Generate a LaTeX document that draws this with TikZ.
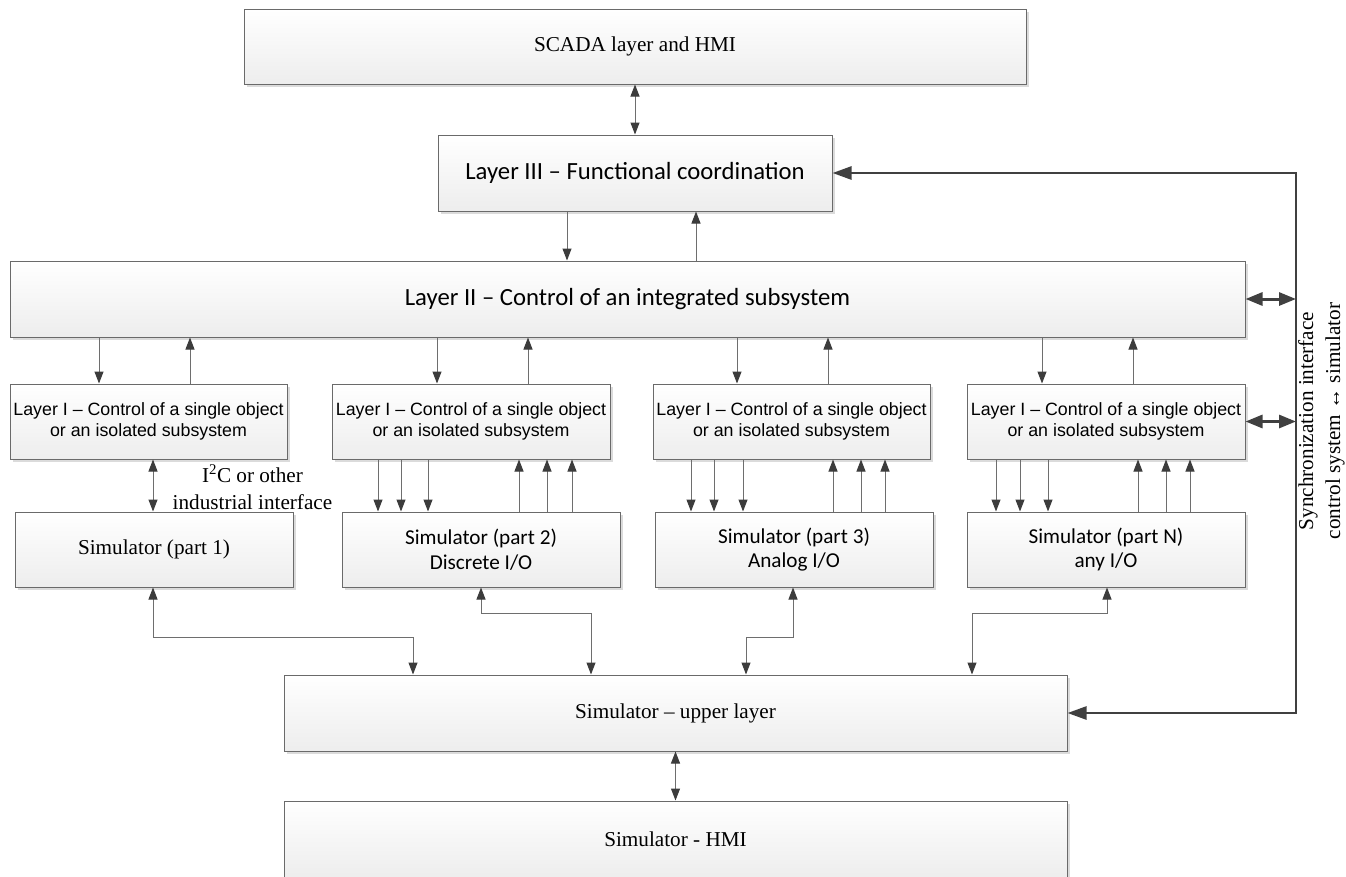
\documentclass[tikz,border=0pt]{standalone}
\usepackage{fontspec}
\setmainfont{Liberation Serif}
\newfontfamily\arialf[Ligatures=TeX]{Liberation Sans}
\newfontfamily\calibf[Ligatures=TeX]{Carlito}
\usetikzlibrary{arrows.meta,shadows}
\definecolor{boxline}{HTML}{6A6A6A}
\definecolor{arrline}{HTML}{6E6E6E}
\definecolor{arrhead}{HTML}{3C3C3C}
\definecolor{syncc}{HTML}{404040}
\tikzset{
  box/.style={draw=boxline, line width=1pt, top color=white, bottom color=black!7,
    drop shadow={shadow xshift=3pt, shadow yshift=-3pt, fill=black!14, opacity=1},
    align=center, inner sep=2pt},
  tnr/.style={font=\fontsize{21.2}{27}\selectfont},
  ari/.style={font=\arialf\fontsize{17.8}{21.7}\selectfont},
  calbig/.style={font=\calibf\fontsize{24.7}{30}\selectfont},
  calsm/.style={font=\calibf\fontsize{21.2}{24.5}\selectfont},
  arr/.style={draw=arrline, line width=1pt, -{Triangle[length=12pt,width=9pt,color=arrhead]}},
  darr/.style={draw=arrline, line width=1pt, {Triangle[length=12pt,width=9pt,color=arrhead]}-{Triangle[length=12pt,width=9pt,color=arrhead]}},
  syncline/.style={draw=syncc, line width=2.6pt, {Triangle[length=19pt,width=13pt,color=syncc]}-{Triangle[length=19pt,width=13pt,color=syncc]}},
  bigd/.style={draw=syncc, line width=3pt, {Triangle[length=17pt,width=13pt,color=syncc]}-{Triangle[length=17pt,width=13pt,color=syncc]}},
}
\begin{document}
\begin{tikzpicture}[x=1pt,y=-1pt]
\useasboundingbox (0,0) rectangle (1346,876);
% boxes
\node[box,tnr,minimum width=782pt,minimum height=75pt] (scada) at (635,46.5) {SCADA layer and HMI};
\node[box,calbig,minimum width=394pt,minimum height=76pt] (l3) at (635,173) {Layer III – Functional coordination};
\node[box,calbig,minimum width=1235pt,minimum height=76pt] (l2) at (627.5,299) {Layer II – Control of an integrated subsystem};
\node[box,ari,minimum width=277pt,minimum height=75pt] (la1) at (148.5,421.5) {Layer I – Control of a single object\\or an isolated subsystem};
\node[box,ari,minimum width=278pt,minimum height=75pt] (la2) at (471,421.5) {Layer I – Control of a single object\\or an isolated subsystem};
\node[box,ari,minimum width=277pt,minimum height=75pt] (la3) at (791.5,421.5) {Layer I – Control of a single object\\or an isolated subsystem};
\node[box,ari,minimum width=278pt,minimum height=75pt] (la4) at (1106,421.5) {Layer I – Control of a single object\\or an isolated subsystem};
\node[box,tnr,minimum width=278pt,minimum height=75pt] (s1) at (154,549.5) {Simulator (part 1)};
\node[box,calsm,minimum width=278pt,minimum height=75pt] (s2) at (481,549.5) {Simulator (part 2)\\Discrete I/O};
\node[box,calsm,minimum width=278pt,minimum height=75pt] (s3) at (794,549.5) {Simulator (part 3)\\Analog I/O};
\node[box,calsm,minimum width=278pt,minimum height=75pt] (sN) at (1106,549.5) {Simulator (part N)\\any I/O};
\node[box,tnr,minimum width=783pt,minimum height=76pt] (up) at (675.5,713) {Simulator – upper layer};
\node[box,tnr,minimum width=783pt,minimum height=77pt] (hmi) at (675.5,839.5) {Simulator - HMI};
% labels
\node[tnr,align=center,inner sep=0pt] (i2c) at (252.5,487) {I\textsuperscript{2}C or other\\industrial interface};
\node[tnr,align=center,inner sep=0pt,rotate=90] (synclbl) at (1321.5,421) {Synchronization interface\\control system ↔ simulator};
\coordinate (sync) at (1296,440);
% top arrows
\draw[darr] (scada.south) -- (l3.north);
\draw[arr] (l3.south -| 567,0) -- (l2.north -| 567,0);
\draw[arr] (l2.north -| 696,0) -- (l3.south -| 696,0);
% layer II <-> layer I
\draw[arr] (l2.south -| 99,0) -- (la1.north -| 99,0);
\draw[arr] (la1.north -| 190,0) -- (l2.south -| 190,0);
\draw[arr] (l2.south -| 437,0) -- (la2.north -| 437,0);
\draw[arr] (la2.north -| 528,0) -- (l2.south -| 528,0);
\draw[arr] (l2.south -| 737,0) -- (la3.north -| 737,0);
\draw[arr] (la3.north -| 828,0) -- (l2.south -| 828,0);
\draw[arr] (l2.south -| 1042,0) -- (la4.north -| 1042,0);
\draw[arr] (la4.north -| 1133,0) -- (l2.south -| 1133,0);
% layer I <-> simulators
\draw[darr] (la1.south -| 153,0) -- (s1.north -| 153,0);
\foreach \x in {378,401,428} \draw[arr] (la2.south -| \x,0) -- (s2.north -| \x,0);
\foreach \x in {519,547,572} \draw[arr] (s2.north -| \x,0) -- (la2.south -| \x,0);
\foreach \x in {691,714,743} \draw[arr] (la3.south -| \x,0) -- (s3.north -| \x,0);
\foreach \x in {833,861,885} \draw[arr] (s3.north -| \x,0) -- (la3.south -| \x,0);
\foreach \x in {996,1020,1048} \draw[arr] (la4.south -| \x,0) -- (sN.north -| \x,0);
\foreach \x in {1138,1166,1190} \draw[arr] (sN.north -| \x,0) -- (la4.south -| \x,0);
% simulators <-> upper layer
\draw[darr] (s1.south -| 153,0) |- (413,637) -- (up.north -| 413,0);
\draw[darr] (s2.south -| 481,0) |- (591,613) -- (up.north -| 591,0);
\draw[darr] (s3.south -| 793,0) |- (746,637) -- (up.north -| 746,0);
\draw[darr] (sN.south -| 1107,0) |- (972,613) -- (up.north -| 972,0);
\draw[darr] (up.south) -- (hmi.north);
% synchronization interface
\draw[syncline] (l3.east) -| (sync) |- (up.east);
\draw[bigd] (l2.east) -- (l2.east -| sync);
\draw[bigd] (la4.east) -- (la4.east -| sync);
\end{tikzpicture}
\end{document}
